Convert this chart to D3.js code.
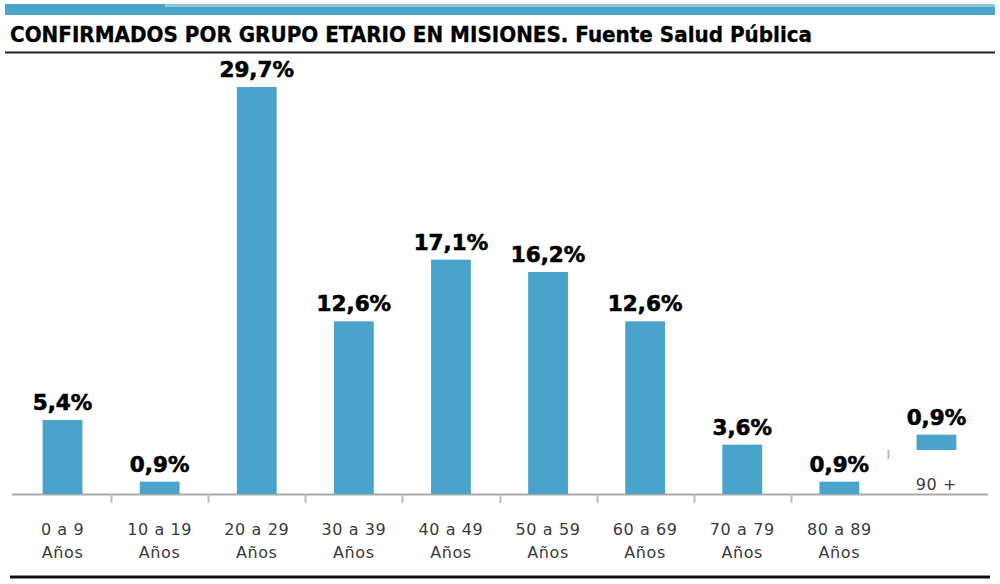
<!DOCTYPE html>
<html>
<head>
<meta charset="utf-8">
<script src="https://cdn.jsdelivr.net/npm/d3@7"></script>
<style>
  html, body { margin: 0; padding: 0; background: #fff; }
  svg { display: block; }
</style>
</head>
<body>
<svg id="chart" width="1000" height="584"></svg>
<script>
const categories = ["0 a 9", "10 a 19", "20 a 29", "30 a 39", "40 a 49", "50 a 59", "60 a 69", "70 a 79", "80 a 89", "90 +"];
const subLabels = ["Años", "Años", "Años", "Años", "Años", "Años", "Años", "Años", "Años", ""];
const values = [5.4, 0.9, 29.7, 12.6, 17.1, 16.2, 12.6, 3.6, 0.9, 0.9];
const valueLabels = ["5,4%", "0,9%", "29,7%", "12,6%", "17,1%", "16,2%", "12,6%", "3,6%", "0,9%", "0,9%"];
const titleText = "CONFIRMADOS POR GRUPO ETARIO EN MISIONES. Fuente Salud Pública";

const svg = d3.select("#chart");
const barColor = "#4aa3cb";

// top band
svg.append("rect").attr("x", 5).attr("y", 4).attr("width", 990).attr("height", 11).attr("fill", "#4aa3cb");
svg.append("rect").attr("x", 165).attr("y", 4).attr("width", 830).attr("height", 3).attr("fill", "#8ec7e2");

// title
svg.append("text")
  .attr("x", 10).attr("y", 42)
  .attr("font-family", "'DejaVu Sans Condensed', 'Liberation Sans Narrow', 'Liberation Sans', sans-serif")
  .attr("font-weight", "bold")
  .attr("font-size", 21)
  .attr("textLength", 802)
  .attr("lengthAdjust", "spacingAndGlyphs")
  .attr("fill", "#000")
  .attr("stroke", "#000")
  .attr("stroke-width", 0.3)
  .text(titleText);

svg.append("line").attr("x1", 5).attr("x2", 995).attr("y1", 52.5).attr("y2", 52.5)
  .attr("stroke", "#222").attr("stroke-width", 2);

// scales
const baseY = 494;
const x = d3.scaleBand().domain(categories).range([14, 985]).paddingInner(0.59).paddingOuter(0.295);
const y = d3.scaleLinear().domain([0, 29.7]).range([baseY, 87]);
const step = x.step();
const lastCat = categories[categories.length - 1];
const shift = c => (c === lastCat ? -44 : 0);

// axis baseline
svg.append("line").attr("x1", 12).attr("x2", 988).attr("y1", baseY + 0.5).attr("y2", baseY + 0.5)
  .attr("stroke", "#aaa").attr("stroke-width", 2);

// ticks at category boundaries
categories.slice(1).forEach(c => {
  const bx = Math.round(x(c) - step * x.paddingInner() / 2);
  const dy = shift(c);
  svg.append("line")
    .attr("x1", bx + 0.5).attr("x2", bx + 0.5)
    .attr("y1", baseY + dy).attr("y2", baseY + 9 + dy)
    .attr("stroke", "#bbb").attr("stroke-width", 2);
});

// bars
svg.selectAll("rect.bar").data(categories).enter().append("rect")
  .attr("class", "bar")
  .attr("x", c => x(c))
  .attr("width", x.bandwidth())
  .attr("y", (c, i) => y(values[i]) + shift(c) - (c === lastCat ? 3 : 0))
  .attr("height", (c, i) => baseY - y(values[i]) + (c === lastCat ? 3 : 0))
  .attr("fill", barColor);

// value labels
svg.selectAll("text.val").data(categories).enter().append("text")
  .attr("class", "val")
  .attr("x", c => x(c) + x.bandwidth() / 2)
  .attr("y", (c, i) => y(values[i]) + shift(c) - 10 - (c === lastCat ? 3 : 0))
  .attr("text-anchor", "middle")
  .attr("font-family", "'DejaVu Sans', sans-serif")
  .attr("font-weight", "bold")
  .attr("font-size", 21.5)
  .attr("fill", "#000")
  .attr("stroke", "#000")
  .attr("stroke-width", 0.6)
  .text((c, i) => valueLabels[i]);

// category labels
const catFont = "'DejaVu Sans', sans-serif";
svg.selectAll("text.cat").data(categories).enter().append("text")
  .attr("class", "cat")
  .attr("x", c => x(c) + x.bandwidth() / 2)
  .attr("y", c => (c === lastCat ? 490 : 535))
  .attr("text-anchor", "middle")
  .attr("font-family", catFont)
  .attr("font-size", 16)
  .attr("letter-spacing", 0.6)
  .attr("fill", "#3a3a3a")
  .text(c => c);

svg.selectAll("text.sub").data(categories).enter().append("text")
  .attr("class", "sub")
  .attr("x", c => x(c) + x.bandwidth() / 2)
  .attr("y", 558)
  .attr("text-anchor", "middle")
  .attr("font-family", catFont)
  .attr("font-size", 16)
  .attr("letter-spacing", 0.6)
  .attr("fill", "#3a3a3a")
  .text((c, i) => subLabels[i]);

// bottom rule
svg.append("line").attr("x1", 10).attr("x2", 990).attr("y1", 577).attr("y2", 577)
  .attr("stroke", "#111").attr("stroke-width", 3);
</script>
</body>
</html>
